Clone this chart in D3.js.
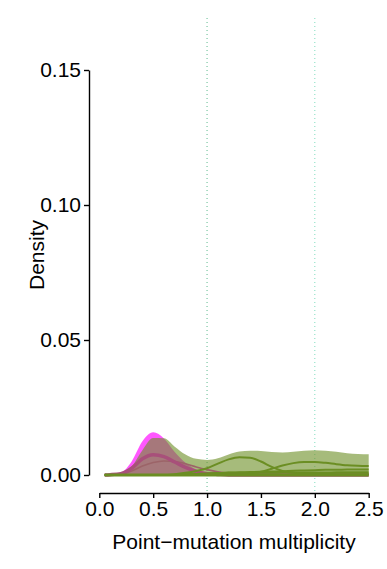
<!DOCTYPE html>
<html>
<head>
<meta charset="utf-8">
<script src="https://cdn.jsdelivr.net/npm/d3@7"></script>
<style>
  html, body { margin: 0; padding: 0; background: #fff; }
  text { font-family: "Liberation Sans", Arial, Helvetica, sans-serif; }
</style>
</head>
<body>
<svg id="chart" width="387" height="569"></svg>
<script>
// Grid of multiplicity values
const xs = [0.05,0.1,0.2,0.3,0.4,0.5,0.6,0.7,0.8,0.9,1.0,1.1,1.2,1.3,1.4,1.5,1.6,1.7,1.8,1.9,2.0,2.1,2.2,2.3,2.4,2.5];

// Filled densities
const magentaArea = [0,0.0001,0.0008,0.0050,0.0125,0.0158,0.0135,0.0085,0.0045,0.0020,0.0008,0.0003,0.0001,0,0,0,0,0,0,0,0,0,0,0,0,0];
const greenArea   = [0,0.0001,0.0006,0.0031,0.0092,0.0137,0.0136,0.0105,0.0076,0.0060,0.0056,0.0062,0.0076,0.0087,0.0090,0.0089,0.0085,0.0083,0.0086,0.0090,0.0092,0.0090,0.0086,0.0081,0.0078,0.0077];

// Line densities
const pinkLine  = [0,0.0001,0.0005,0.0025,0.0060,0.0075,0.0068,0.0048,0.0028,0.0013,0.0005,0.0002,0,0,0,0,0,0,0,0,0,0,0,0,0,0];
const brownLine = [0,0,0.0003,0.0015,0.0033,0.0046,0.0052,0.0050,0.0042,0.0030,0.0020,0.0012,0.0007,0.0004,0.0002,0.0001,0.0001,0.0001,0.0001,0.0001,0.0001,0.0001,0.0001,0.0001,0.0001,0.0001];
const greenLine1 = [0,0,0,0,0,0,0,0.0003,0.0008,0.0015,0.0025,0.0042,0.0058,0.0066,0.0064,0.0050,0.0030,0.0015,0.0008,0.0005,0.0004,0.0004,0.0003,0.0003,0.0003,0.0003];
const greenLine2 = [0,0,0,0,0,0,0,0,0,0,0,0,0.0001,0.0002,0.0005,0.0012,0.0023,0.0035,0.0044,0.0048,0.0048,0.0045,0.0040,0.0036,0.0034,0.0033];
const greenLine3 = [0,0,0,0,0,0,0,0,0.0002,0.0004,0.0005,0.0007,0.0009,0.0010,0.0011,0.0012,0.0013,0.0014,0.0016,0.0017,0.0018,0.0019,0.0019,0.0020,0.0020,0.0020];
const greenLine4 = [0,0,0,0,0,0,0,0,0.0002,0.0004,0.0006,0.0007,0.0008,0.0008,0.0008,0.0008,0.0008,0.0009,0.0009,0.0009,0.0009,0.0009,0.0010,0.0010,0.0010,0.0010];
const baseLine  = [0,0,0,0,0,0,0,0,0,0,0,0,0,0,0,0,0,0,0,0,0,0,0,0,0,0];

const xTicks = [0.0,0.5,1.0,1.5,2.0,2.5];
const yTicks = [0.00,0.05,0.10,0.15];
const vLines = [1.0, 2.0];
const vLineColors = ["#5DBB8E", "#7FDDBE"];

const svg = d3.select("#chart");
const x = d3.scaleLinear().domain([0, 2.5]).range([99.3, 368.7]);
const y = d3.scaleLinear().domain([0, 0.15]).range([475, 70]);

// vertical dotted reference lines
svg.selectAll("line.vref").data(vLines).enter().append("line")
  .attr("x1", d => x(d)).attr("x2", d => x(d))
  .attr("y1", 18).attr("y2", 493)
  .attr("stroke", (d,i) => vLineColors[i])
  .attr("stroke-width", 1)
  .attr("stroke-dasharray", "1,3");

const area = arr => d3.area().x((d,i) => x(xs[i])).y0(y(0)).y1(d => y(d)).curve(d3.curveMonotoneX)(arr);
const line = arr => d3.line().x((d,i) => x(xs[i])).y(d => y(d)).curve(d3.curveMonotoneX)(arr);

svg.append("path").attr("d", area(magentaArea)).attr("fill", "#FF00FF").attr("fill-opacity", 0.66);
svg.append("path").attr("d", area(greenArea)).attr("fill", "#6B8E23").attr("fill-opacity", 0.6);

svg.append("path").attr("d", line(brownLine)).attr("fill", "none").attr("stroke", "#9C6468").attr("stroke-width", 1.6);
svg.append("path").attr("d", line(pinkLine)).attr("fill", "none").attr("stroke", "#A8507A").attr("stroke-width", 3.5);
[greenLine3, greenLine4, greenLine1, greenLine2].forEach(arr => {
  svg.append("path").attr("d", line(arr)).attr("fill", "none").attr("stroke", "#6B8E23").attr("stroke-width", 2);
});
svg.append("path").attr("d", line(baseLine)).attr("fill", "none").attr("stroke", "#6B8E23").attr("stroke-width", 3);

// axes
const fs = 21;
const xAxis = svg.append("g").attr("transform", "translate(0,493)")
  .call(d3.axisBottom(x).tickValues(xTicks).tickFormat(d3.format(".1f")).tickSizeOuter(0).tickSizeInner(5).tickPadding(3));
const yAxis = svg.append("g").attr("transform", "translate(89,0)")
  .call(d3.axisLeft(y).tickValues(yTicks).tickFormat(d3.format(".2f")).tickSizeOuter(0).tickSizeInner(5).tickPadding(3));
[xAxis, yAxis].forEach(g => {
  g.select(".domain").attr("stroke", "#000").attr("stroke-width", 1.4);
  g.selectAll(".tick line").attr("stroke", "#000").attr("stroke-width", 1.4);
  g.selectAll(".tick text").attr("fill", "#000").style("font-size", fs + "px").style("font-family", "Liberation Sans, Arial, sans-serif");
});

svg.append("text").attr("x", 234).attr("y", 549).attr("text-anchor", "middle")
  .style("font-size", fs + "px").text("Point\u2212mutation multiplicity");
svg.append("text").attr("transform", "translate(44,255) rotate(-90)").attr("text-anchor", "middle")
  .style("font-size", fs + "px").text("Density");
</script>
</body>
</html>
